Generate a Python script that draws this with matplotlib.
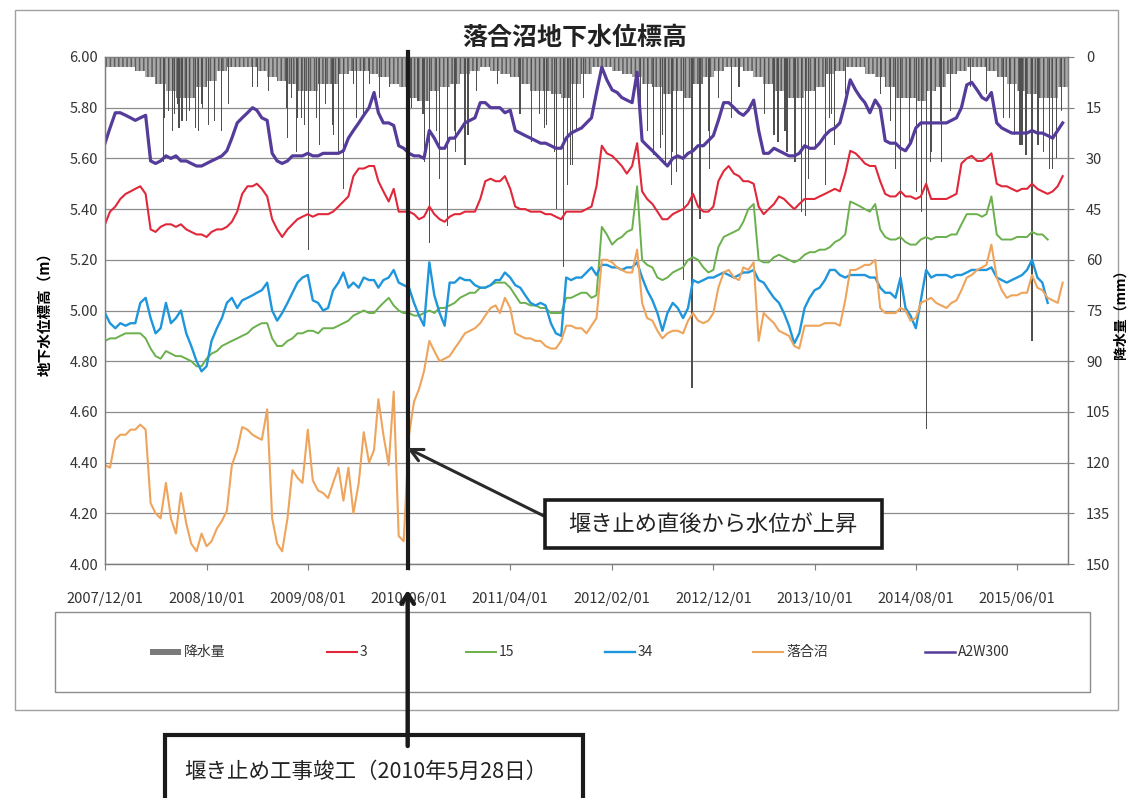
import numpy as np
import pandas as pd
import matplotlib
matplotlib.use("Agg")
import matplotlib.pyplot as plt
import matplotlib.dates as mdates
from matplotlib.patches import Rectangle
from matplotlib.lines import Line2D
from matplotlib.transforms import blended_transform_factory

plt.rcParams["font.family"] = ["Noto Sans CJK JP", "DejaVu Sans"]
plt.rcParams["hatch.linewidth"] = 1.1

# ---- water levels, sampled on the 1st and 16th of each month (Dec 2007 - Oct 2015)
month_starts = pd.date_range("2007-12-01", "2015-10-01", freq="MS")
level_dates = sorted(list(month_starts) + list(month_starts + pd.Timedelta(days=15)))

a2w300 = [
    5.66, 5.72, 5.78, 5.78, 5.77, 5.76, 5.75, 5.76, 5.77, 5.59, 5.58, 5.59, 5.61, 5.60, 5.61, 5.59,
    5.59, 5.58, 5.57, 5.57, 5.58, 5.59, 5.60, 5.61, 5.63, 5.68, 5.74, 5.76, 5.78, 5.80, 5.79, 5.76,
    5.75, 5.62, 5.59, 5.58, 5.59, 5.61, 5.61, 5.61, 5.62, 5.61, 5.61, 5.62, 5.62, 5.62, 5.62, 5.63,
    5.68, 5.71, 5.74, 5.77, 5.80, 5.86, 5.78, 5.74, 5.74, 5.73, 5.65, 5.64, 5.62, 5.61, 5.61, 5.60,
    5.71, 5.68, 5.64, 5.64, 5.68, 5.68, 5.71, 5.74, 5.75, 5.76, 5.82, 5.82, 5.80, 5.80, 5.80, 5.78,
    5.79, 5.71, 5.70, 5.69, 5.68, 5.67, 5.66, 5.66, 5.65, 5.64, 5.64, 5.68, 5.70, 5.71, 5.72, 5.74,
    5.76, 5.86, 5.96, 5.91, 5.87, 5.86, 5.84, 5.83, 5.82, 5.94, 5.67, 5.65, 5.63, 5.61, 5.59, 5.57,
    5.60, 5.61, 5.60, 5.62, 5.63, 5.65, 5.65, 5.67, 5.69, 5.75, 5.82, 5.82, 5.80, 5.78, 5.77, 5.79,
    5.83, 5.71, 5.62, 5.62, 5.64, 5.63, 5.62, 5.61, 5.61, 5.62, 5.65, 5.64, 5.64, 5.66, 5.69, 5.71,
    5.72, 5.74, 5.82, 5.91, 5.87, 5.84, 5.82, 5.78, 5.83, 5.80, 5.67, 5.66, 5.66, 5.64, 5.63, 5.66,
    5.72, 5.74, 5.74, 5.74, 5.74, 5.74, 5.74, 5.75, 5.76, 5.80, 5.89, 5.90, 5.87, 5.84, 5.83, 5.86,
    5.74, 5.72, 5.71, 5.70, 5.70, 5.70, 5.70, 5.71, 5.70, 5.70, 5.69, 5.68, 5.71, 5.74,
]
well_3 = [
    5.34, 5.39, 5.41, 5.44, 5.46, 5.47, 5.48, 5.49, 5.46, 5.32, 5.31, 5.33, 5.34, 5.34, 5.33, 5.34,
    5.32, 5.31, 5.30, 5.30, 5.29, 5.31, 5.32, 5.32, 5.33, 5.35, 5.39, 5.46, 5.49, 5.49, 5.50, 5.48,
    5.45, 5.36, 5.32, 5.29, 5.32, 5.34, 5.36, 5.37, 5.38, 5.37, 5.38, 5.38, 5.38, 5.39, 5.41, 5.43,
    5.45, 5.53, 5.56, 5.56, 5.57, 5.57, 5.51, 5.47, 5.43, 5.48, 5.39, 5.39, 5.39, 5.38, 5.36, 5.37,
    5.41, 5.38, 5.36, 5.35, 5.37, 5.38, 5.38, 5.39, 5.39, 5.39, 5.44, 5.51, 5.52, 5.51, 5.51, 5.53,
    5.48, 5.41, 5.40, 5.40, 5.39, 5.39, 5.39, 5.38, 5.38, 5.37, 5.36, 5.39, 5.39, 5.39, 5.39, 5.40,
    5.41, 5.49, 5.65, 5.62, 5.61, 5.59, 5.57, 5.54, 5.57, 5.66, 5.47, 5.44, 5.42, 5.39, 5.36, 5.36,
    5.38, 5.39, 5.40, 5.42, 5.46, 5.41, 5.39, 5.39, 5.41, 5.51, 5.55, 5.57, 5.54, 5.53, 5.51, 5.51,
    5.50, 5.41, 5.38, 5.40, 5.42, 5.45, 5.44, 5.42, 5.40, 5.42, 5.44, 5.44, 5.44, 5.45, 5.46, 5.47,
    5.48, 5.47, 5.54, 5.63, 5.62, 5.60, 5.58, 5.57, 5.57, 5.51, 5.46, 5.45, 5.45, 5.47, 5.45, 5.45,
    5.44, 5.45, 5.50, 5.44, 5.44, 5.44, 5.44, 5.45, 5.46, 5.58, 5.60, 5.61, 5.59, 5.59, 5.60, 5.62,
    5.50, 5.49, 5.49, 5.48, 5.47, 5.48, 5.48, 5.50, 5.48, 5.47, 5.46, 5.47, 5.49, 5.53,
]
well_15 = [
    4.88, 4.89, 4.89, 4.90, 4.91, 4.91, 4.91, 4.91, 4.89, 4.85, 4.82, 4.81, 4.84, 4.83, 4.82, 4.82,
    4.81, 4.80, 4.78, 4.78, 4.81, 4.83, 4.84, 4.86, 4.87, 4.88, 4.89, 4.90, 4.91, 4.93, 4.94, 4.95,
    4.95, 4.89, 4.86, 4.86, 4.88, 4.89, 4.91, 4.91, 4.92, 4.92, 4.91, 4.93, 4.93, 4.93, 4.94, 4.95,
    4.96, 4.98, 4.99, 5.00, 4.99, 4.99, 5.01, 5.03, 5.05, 5.02, 5.00, 4.99, 4.99, 4.98, 4.98, 4.99,
    5.00, 4.99, 5.01, 5.01, 5.02, 5.03, 5.05, 5.06, 5.07, 5.07, 5.09, 5.09, 5.10, 5.11, 5.11, 5.11,
    5.09, 5.06, 5.03, 5.03, 5.02, 5.02, 5.01, 5.01, 4.99, 4.99, 4.99, 5.05, 5.05, 5.06, 5.07, 5.07,
    5.05, 5.06, 5.33, 5.30, 5.26, 5.28, 5.29, 5.31, 5.32, 5.49, 5.20, 5.18, 5.17, 5.13, 5.12, 5.13,
    5.15, 5.16, 5.17, 5.20, 5.21, 5.20, 5.17, 5.15, 5.16, 5.25, 5.29, 5.30, 5.31, 5.32, 5.35, 5.40,
    5.42, 5.20, 5.19, 5.19, 5.21, 5.22, 5.21, 5.20, 5.19, 5.20, 5.22, 5.23, 5.23, 5.24, 5.24, 5.25,
    5.27, 5.28, 5.30, 5.43, 5.42, 5.41, 5.40, 5.39, 5.42, 5.32, 5.29, 5.28, 5.28, 5.29, 5.27, 5.26,
    5.26, 5.28, 5.29, 5.28, 5.29, 5.29, 5.29, 5.30, 5.30, 5.34, 5.38, 5.38, 5.38, 5.37, 5.38, 5.45,
    5.30, 5.28, 5.28, 5.28, 5.29, 5.29, 5.29, 5.31, 5.30, 5.30, 5.28, np.nan, np.nan, np.nan,
]
well_34 = [
    4.99, 4.95, 4.93, 4.95, 4.94, 4.95, 4.95, 5.03, 5.05, 4.97, 4.91, 4.93, 5.03, 4.95, 4.97, 5.00,
    4.91, 4.86, 4.80, 4.76, 4.78, 4.88, 4.93, 4.97, 5.03, 5.05, 5.01, 5.04, 5.05, 5.06, 5.07, 5.08,
    5.11, 5.00, 4.96, 4.99, 5.03, 5.07, 5.11, 5.13, 5.14, 5.04, 5.03, 5.00, 5.01, 5.08, 5.11, 5.15,
    5.09, 5.11, 5.09, 5.13, 5.12, 5.12, 5.09, 5.12, 5.13, 5.16, 5.11, 5.10, 5.09, 5.03, 4.98, 4.94,
    5.19, 5.06, 4.99, 4.94, 5.11, 5.11, 5.13, 5.12, 5.12, 5.10, 5.09, 5.09, 5.10, 5.12, 5.12, 5.15,
    5.13, 5.10, 5.09, 5.06, 5.03, 5.02, 5.03, 5.02, 4.95, 4.91, 4.90, 5.13, 5.12, 5.13, 5.13, 5.15,
    5.17, 5.14, 5.18, 5.18, 5.17, 5.17, 5.16, 5.17, 5.17, 5.19, 5.13, 5.08, 5.04, 4.99, 4.92, 4.99,
    5.03, 5.01, 4.97, 5.01, 5.12, 5.11, 5.12, 5.13, 5.13, 5.14, 5.15, 5.14, 5.13, 5.14, 5.15, 5.15,
    5.16, 5.12, 5.11, 5.08, 5.05, 5.03, 4.99, 4.94, 4.87, 4.91, 5.01, 5.05, 5.08, 5.09, 5.12, 5.16,
    5.16, 5.14, 5.13, 5.14, 5.14, 5.14, 5.14, 5.13, 5.13, 5.09, 5.07, 5.07, 5.05, 5.13, 5.01, 4.98,
    4.93, 5.04, 5.16, 5.13, 5.14, 5.14, 5.14, 5.13, 5.14, 5.14, 5.15, 5.16, 5.16, 5.16, 5.16, 5.17,
    5.13, 5.12, 5.11, 5.12, 5.13, 5.14, 5.16, 5.20, 5.13, 5.11, 5.03, np.nan, np.nan, np.nan,
]
ochiai = [
    4.39, 4.38, 4.49, 4.51, 4.51, 4.53, 4.53, 4.55, 4.53, 4.24, 4.20, 4.18, 4.32, 4.18, 4.12, 4.28,
    4.16, 4.08, 4.05, 4.12, 4.07, 4.09, 4.14, 4.17, 4.21, 4.39, 4.45, 4.54, 4.53, 4.51, 4.50, 4.49,
    4.61, 4.18, 4.08, 4.05, 4.18, 4.37, 4.34, 4.32, 4.53, 4.33, 4.29, 4.28, 4.26, 4.32, 4.38, 4.25,
    4.38, 4.20, 4.32, 4.52, 4.40, 4.45, 4.65, 4.51, 4.39, 4.68, 4.11, 4.09, 4.51, 4.64, 4.69, 4.76,
    4.88, 4.84, 4.80, 4.81, 4.82, 4.85, 4.88, 4.91, 4.92, 4.93, 4.95, 4.98, 5.01, 5.02, 4.99, 5.05,
    5.01, 4.91, 4.90, 4.89, 4.89, 4.88, 4.88, 4.86, 4.85, 4.85, 4.88, 4.94, 4.94, 4.93, 4.93, 4.91,
    4.94, 4.97, 5.20, 5.20, 5.19, 5.17, 5.16, 5.15, 5.15, 5.24, 5.03, 4.97, 4.96, 4.92, 4.89, 4.91,
    4.92, 4.92, 4.91, 4.96, 4.99, 4.96, 4.95, 4.96, 4.99, 5.09, 5.15, 5.16, 5.13, 5.12, 5.17, 5.16,
    5.19, 4.88, 4.99, 4.97, 4.95, 4.92, 4.91, 4.90, 4.86, 4.85, 4.94, 4.94, 4.94, 4.94, 4.95, 4.95,
    4.95, 4.94, 5.04, 5.16, 5.16, 5.17, 5.18, 5.18, 5.20, 5.01, 4.99, 4.99, 4.99, 5.01, 5.00, 4.96,
    4.97, 5.03, 5.04, 5.05, 5.03, 5.02, 5.01, 5.03, 5.04, 5.08, 5.13, 5.14, 5.16, 5.17, 5.18, 5.26,
    5.13, 5.08, 5.05, 5.06, 5.06, 5.07, 5.07, 5.14, 5.09, 5.08, 5.05, 5.04, 5.03, 5.11,
]

# ---- rainfall (mm): typical small daily amounts per month, plus the larger storm days
rain_base_mm = [
    3,
    3, 3, 4, 6, 8, 10, 12, 12, 9, 7, 4, 3,
    3, 3, 4, 6, 7, 8, 10, 10, 8, 8, 5, 4,
    4, 5, 6, 8, 9, 12, 13, 10, 9, 8, 5, 4,
    3, 4, 5, 6, 8, 10, 10, 11, 12, 8, 5, 3,
    3, 4, 5, 6, 8, 9, 11, 10, 12, 8, 6, 4,
    3, 3, 4, 6, 8, 10, 12, 12, 10, 9, 5, 4,
    3, 3, 5, 6, 9, 12, 12, 13, 10, 9, 5, 4,
    3, 3, 4, 6, 8, 10, 11, 12, 12, 9,
]
storm_dates = [
    "2008-05-24", "2008-05-28", "2008-06-08", "2008-06-20", "2008-06-26", "2008-07-07",
    "2008-07-10", "2008-07-19", "2008-08-02", "2008-08-10", "2008-08-28", "2008-09-07",
    "2008-09-16", "2008-09-18", "2008-10-06", "2008-10-25", "2008-11-16", "2008-12-06",
    "2009-02-15", "2009-03-04", "2009-04-04", "2009-05-29", "2009-06-01", "2009-06-13",
    "2009-06-28", "2009-07-02", "2009-07-13", "2009-07-22", "2009-08-03", "2009-08-28",
    "2009-09-06", "2009-09-22", "2009-10-13", "2009-10-16", "2009-11-01", "2009-11-16",
    "2009-12-16", "2009-12-25", "2010-01-16", "2010-02-03", "2010-03-04", "2010-04-03",
    "2010-06-09", "2010-06-28", "2010-07-13", "2010-07-18", "2010-08-01", "2010-08-22",
    "2010-09-01", "2010-09-24", "2010-10-16", "2010-10-19", "2010-11-16", "2010-11-25",
    "2010-12-21", "2011-02-22", "2011-04-28", "2011-05-01", "2011-06-03", "2011-06-28",
    "2011-07-13", "2011-07-19", "2011-08-13", "2011-08-19", "2011-09-09", "2011-09-19",
    "2011-09-28", "2011-10-06", "2011-10-16", "2011-11-06", "2012-04-25", "2012-05-16",
    "2012-06-04", "2012-06-25", "2012-07-01", "2012-07-10", "2012-07-28", "2012-08-01",
    "2012-08-13", "2012-09-03", "2012-09-28", "2012-10-22", "2012-11-16", "2012-11-19",
    "2012-12-16", "2013-01-25", "2013-02-16", "2013-05-04", "2013-06-01", "2013-06-13",
    "2013-07-04", "2013-07-10", "2013-08-03", "2013-08-22", "2013-09-04", "2013-09-12",
    "2013-10-03", "2013-11-03", "2013-11-16", "2013-11-22", "2013-12-01", "2014-01-01",
    "2014-04-16", "2014-05-16", "2014-06-01", "2014-06-16", "2014-07-13", "2014-08-03",
    "2014-08-19", "2014-09-01", "2014-09-13", "2014-09-18", "2014-10-13", "2014-10-16",
    "2014-11-13", "2015-01-13", "2015-03-01", "2015-04-22", "2015-05-10", "2015-05-25",
    "2015-06-10", "2015-06-16", "2015-06-28", "2015-07-16", "2015-08-03", "2015-08-19",
    "2015-09-07", "2015-09-16", "2015-09-28", "2015-10-13",
]
storm_mm = [
    31, 18, 16, 22, 17, 14,
    21, 19, 19, 16, 21, 22,
    14, 15, 20, 19, 22, 14,
    9, 9, 10, 15, 24, 12,
    28, 18, 18, 20, 57, 18,
    26, 14, 20, 23, 28, 39,
    8, 18, 17, 8, 12, 9,
    15, 13, 17, 31, 55, 22,
    36, 50, 22, 28, 32, 23,
    10, 8, 17, 17, 25, 17,
    21, 20, 28, 45, 62, 38,
    32, 32, 22, 12, 17, 22,
    29, 27, 23, 32, 38, 28,
    34, 66, 98, 48, 22, 33,
    12, 18, 9, 17, 23, 25,
    22, 28, 31, 46, 47, 36,
    27, 38, 18, 17, 26, 11,
    11, 19, 33, 75, 26, 40,
    46, 110, 31, 28, 19, 31,
    16, 9, 11, 18, 18, 23,
    26, 26, 29, 84, 26, 28,
    33, 33, 30, 16,
]

x_tick_dates = ["2007-12-01", "2008-10-01", "2009-08-01", "2010-06-01", "2011-04-01",
                "2012-02-01", "2012-12-01", "2013-10-01", "2014-08-01", "2015-06-01"]
level_ticks = [4.0, 4.2, 4.4, 4.6, 4.8, 5.0, 5.2, 5.4, 5.6, 5.8, 6.0]
rain_ticks = [0, 15, 30, 45, 60, 75, 90, 105, 120, 135, 150]

series = [
    ("3", well_3, "#e0283a", 1.5),
    ("15", well_15, "#6ab04c", 1.4),
    ("34", well_34, "#1f96dc", 1.7),
    ("落合沼", ochiai, "#eea45c", 1.5),
    ("A2W300", a2w300, "#553c9a", 2.3),
]
dam_date = pd.Timestamp("2010-05-28")
dam_num = mdates.date2num(dam_date)

W, H = 1134, 798
fig = plt.figure(figsize=(W / 100, H / 100), dpi=100)
fig.patch.set_facecolor("white")

# chart frame
fig.add_artist(Rectangle((15 / W, 1 - 710 / H), 1103 / W, 700 / H, transform=fig.transFigure,
                         fill=False, ec="#a0a0a0", lw=1.0))

ax = fig.add_axes([105 / W, 1 - 564 / H, 963 / W, 507 / H])
ax2 = ax.twinx()
ax2.set_zorder(1)
ax.set_zorder(2)
ax.patch.set_visible(False)

# rainfall hangs from the top on the secondary axis
ax2.set_ylim(150, 0)
ax2.set_yticks(rain_ticks)
ax2.bar(month_starts + pd.Timedelta(days=15), rain_base_mm, width=31, color="#a9a9a9",
        edgecolor="#5e5e5e", hatch="||||", lw=0)
ax2.bar(pd.to_datetime(storm_dates), storm_mm, width=3.5, color="#505050", lw=0)
ax2.grid(axis="y", color="#8c8c8c", lw=0.9)
ax2.set_axisbelow(True)
ax2.tick_params(axis="y", length=4, width=0.8, color="#7f7f7f", pad=9, labelsize=10.5,
                labelcolor="#333333")
ax2.set_ylabel("降水量（mm）", fontsize=10, fontweight="bold", rotation=90, labelpad=2)

for name, vals, col, lw in series:
    ax.plot(level_dates, vals, color=col, lw=lw, label=name)

ax.set_ylim(4.0, 6.0)
ax.set_yticks(level_ticks)
ax.set_yticklabels([f"{v:.2f}" for v in level_ticks])
ax.set_xlim(pd.Timestamp("2007-12-01"), pd.Timestamp("2015-11-01"))
ax.set_xticks(pd.to_datetime(x_tick_dates))
ax.set_xticklabels([d.replace("-", "/") for d in x_tick_dates])
ax.tick_params(axis="y", length=0, pad=5, labelsize=10.5, labelcolor="#333333")
ax.tick_params(axis="x", length=4, width=0.8, color="#7f7f7f", pad=16, labelsize=10.5,
               labelcolor="#333333")
ax.set_ylabel("地下水位標高（m）", fontsize=10.5, fontweight="bold", labelpad=12)
for a in (ax, ax2):
    for s in a.spines.values():
        s.set_color("#7f7f7f")
        s.set_linewidth(0.9)

fig.text(575 / W, 1 - 38 / H, "落合沼地下水位標高", ha="center", va="center",
         fontsize=18, fontweight="bold", color="#222222")

# legend box
fig.add_artist(Rectangle((55 / W, 1 - 692 / H), 1035 / W, 80 / H, transform=fig.transFigure,
                         fill=False, ec="#8c8c8c", lw=1.0))
ly = 1 - 652 / H
fig.add_artist(Rectangle((150 / W, ly - 3 / H), 31 / W, 6 / H, transform=fig.transFigure,
                         fc="#7a7a7a", ec="none"))
fig.text(184 / W, ly, "降水量", ha="left", va="center", fontsize=10, color="#333333")
legend_x = [327, 466, 605, 753, 925]
for (name, vals, col, lw), lx in zip(series, legend_x):
    fig.add_artist(Line2D([lx / W, (lx + 30) / W], [ly, ly], transform=fig.transFigure,
                          color=col, lw=min(lw, 1.8)))
    fig.text((lx + 33) / W, ly, name, ha="left", va="center", fontsize=10, color="#333333")

# weir completion marker
ax.axvline(dam_date, ymin=-0.008, ymax=1.01, color="#1a1a1a", lw=3, clip_on=False, zorder=5)
trans = blended_transform_factory(ax.transData, fig.transFigure)
ax.annotate("", xy=(dam_num, 1 - 590 / H), xycoords=trans,
            xytext=(dam_num, 1 - 746 / H), textcoords=trans,
            arrowprops=dict(arrowstyle="->,head_length=0.7,head_width=0.45", lw=3.2,
                            color="#1a1a1a", shrinkA=0, shrinkB=0),
            annotation_clip=False)
fig.add_artist(Rectangle((165 / W, -10 / H), 418 / W, (63 + 10) / H, transform=fig.transFigure,
                         fc="white", ec="#1a1a1a", lw=3))
fig.text(184 / W, 1 - 772 / H, "堰き止め工事竣工（2010年5月28日）", ha="left", va="center",
         fontsize=15.5, color="#222222")

# callout for the level rise
ax.annotate("", xy=(407 / W, 1 - 448 / H), xycoords="figure fraction",
            xytext=(546 / W, 1 - 517 / H), textcoords="figure fraction",
            arrowprops=dict(arrowstyle="->,head_length=0.9,head_width=0.45", lw=2.2,
                            color="#2a2a2a", shrinkA=0, shrinkB=0),
            annotation_clip=False, zorder=6)
fig.add_artist(Rectangle((545 / W, 1 - 548 / H), 337 / W, 48 / H, transform=fig.transFigure,
                         fc="white", ec="#1a1a1a", lw=2.6, zorder=6))
fig.text(713 / W, 1 - 524 / H, "堰き止め直後から水位が上昇", ha="center", va="center",
         fontsize=16, color="#222222", zorder=7)

fig.savefig("out.png", dpi=100, facecolor="white")
